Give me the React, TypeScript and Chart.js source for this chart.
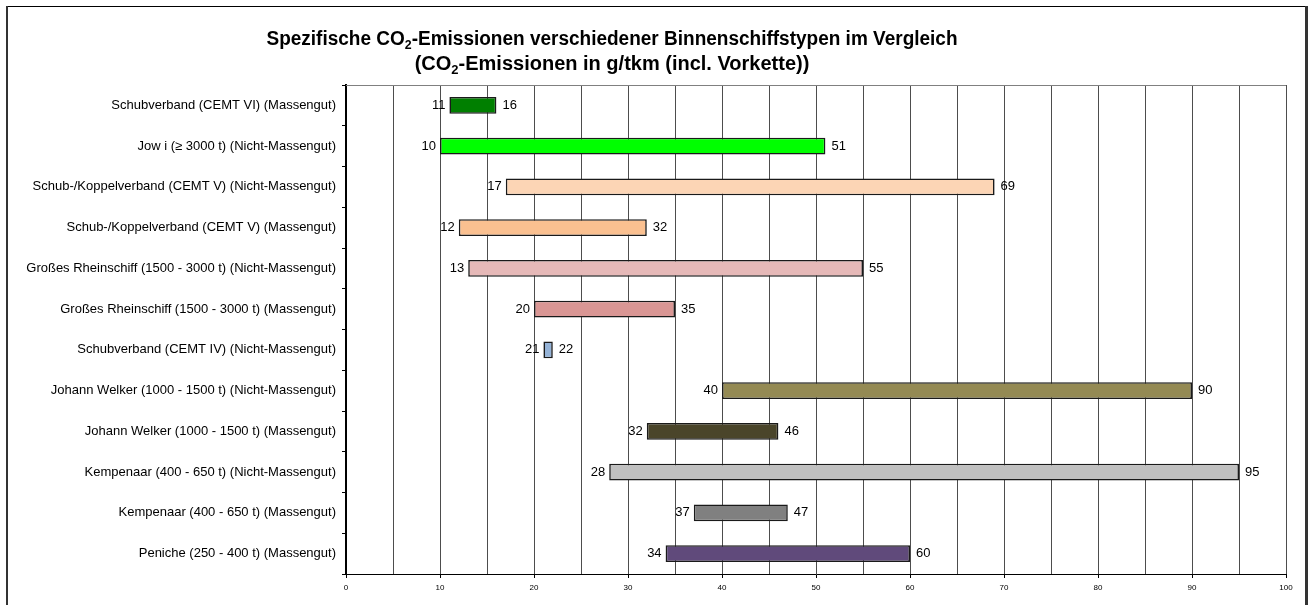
import { useEffect, useRef } from "react";
import { Chart, registerables } from "chart.js";

Chart.register(...registerables);

const categories = [
  "Schubverband (CEMT VI) (Massengut)",
  "Jow i (≥ 3000 t) (Nicht-Massengut)",
  "Schub-/Koppelverband (CEMT V) (Nicht-Massengut)",
  "Schub-/Koppelverband (CEMT V) (Massengut)",
  "Großes Rheinschiff (1500 - 3000 t) (Nicht-Massengut)",
  "Großes Rheinschiff (1500 - 3000 t) (Massengut)",
  "Schubverband (CEMT IV) (Nicht-Massengut)",
  "Johann Welker (1000 - 1500 t) (Nicht-Massengut)",
  "Johann Welker (1000 - 1500 t) (Massengut)",
  "Kempenaar (400 - 650 t) (Nicht-Massengut)",
  "Kempenaar (400 - 650 t) (Massengut)",
  "Peniche (250 - 400 t) (Massengut)",
];

const startValues = [11, 10, 17, 12, 13, 20, 21, 40, 32, 28, 37, 34];
const endValues = [16, 51, 69, 32, 55, 35, 22, 90, 46, 95, 47, 60];

const barColors = [
  "#007F00",
  "#00FF00",
  "#FCD5B5",
  "#FAC090",
  "#E6B9B8",
  "#D99694",
  "#95B3D7",
  "#948A54",
  "#4A452A",
  "#C0C0C0",
  "#808080",
  "#604A7B",
];

const xTickLabels = [0, 10, 20, 30, 40, 50, 60, 70, 80, 90, 100];

const titleLine1 = ["Spezifische CO", "2", "-Emissionen verschiedener Binnenschiffstypen im Vergleich"];
const titleLine2 = ["(CO", "2", "-Emissionen in g/tkm (incl. Vorkette))"];

const BASE_FONT = "'Liberation Sans', Arial, sans-serif";

function drawSubTitle(
  ctx: CanvasRenderingContext2D,
  parts: string[],
  cx: number,
  baseline: number,
  size: number,
  xScale: number
) {
  const mainFont = `bold ${size}px ${BASE_FONT}`;
  const subFont = `bold ${Math.round(size * 0.65)}px ${BASE_FONT}`;
  ctx.save();
  ctx.font = mainFont;
  const w0 = ctx.measureText(parts[0]).width;
  const w2 = ctx.measureText(parts[2]).width;
  ctx.font = subFont;
  const w1 = ctx.measureText(parts[1]).width;
  const total = w0 + w1 + w2;
  ctx.translate(cx, 0);
  ctx.scale(xScale, 1);
  let x = -total / 2;
  ctx.fillStyle = "#000";
  ctx.textAlign = "left";
  ctx.textBaseline = "alphabetic";
  ctx.font = mainFont;
  ctx.fillText(parts[0], x, baseline);
  x += w0;
  ctx.font = subFont;
  ctx.fillText(parts[1], x, baseline + size * 0.22);
  x += w1;
  ctx.font = mainFont;
  ctx.fillText(parts[2], x, baseline);
  ctx.restore();
}

const decorPlugin = {
  id: "decor",
  beforeDraw(chart: any) {
    const ctx = chart.ctx as CanvasRenderingContext2D;
    ctx.save();
    ctx.fillStyle = "#fff";
    ctx.fillRect(0, 0, chart.width, chart.height);
    ctx.restore();
  },
  afterDraw(chart: any) {
    const ctx = chart.ctx as CanvasRenderingContext2D;
    const area = chart.chartArea;
    ctx.save();
    ctx.strokeStyle = "#808080";
    ctx.lineWidth = 1;
    ctx.beginPath();
    ctx.moveTo(area.left, area.top + 0.5);
    ctx.lineTo(area.right, area.top + 0.5);
    ctx.stroke();
    ctx.fillStyle = "#000";
    ctx.fillRect(7, 6, 1299, 1);
    ctx.fillStyle = "#333";
    ctx.fillRect(6, 6, 2, chart.height - 6);
    ctx.fillRect(1305, 6, 3, chart.height - 6);
    drawSubTitle(ctx, titleLine1, 612, 45, 20, 0.95);
    drawSubTitle(ctx, titleLine2, 612, 70, 20, 1.0);
    ctx.restore();
  },
};

const valueLabelPlugin = {
  id: "valueLabels",
  afterDatasetsDraw(chart: any) {
    const ctx = chart.ctx as CanvasRenderingContext2D;
    const meta = chart.getDatasetMeta(0);
    ctx.save();
    ctx.font = `13px ${BASE_FONT}`;
    ctx.fillStyle = "#000";
    ctx.textBaseline = "middle";
    meta.data.forEach((el: any, i: number) => {
      const left = Math.min(el.x, el.base);
      const right = Math.max(el.x, el.base);
      ctx.textAlign = "right";
      ctx.fillText(String(startValues[i]), left - 4, el.y);
      ctx.textAlign = "left";
      ctx.fillText(String(endValues[i]), right + 6, el.y);
    });
    ctx.restore();
  },
};

export default function App() {
  const canvasRef = useRef<HTMLCanvasElement | null>(null);

  useEffect(() => {
    if (!canvasRef.current) return;
    const chart = new Chart(canvasRef.current, {
      type: "bar",
      data: {
        labels: categories,
        datasets: [
          {
            data: startValues.map((s, i) => [s, endValues[i]]) as any,
            backgroundColor: barColors,
            borderColor: "#1a1a1a",
            borderWidth: 1.6,
            borderSkipped: false,
            barPercentage: 0.41,
            categoryPercentage: 1,
          },
        ],
      },
      options: {
        indexAxis: "y",
        animation: false,
        responsive: false,
        devicePixelRatio: 1,
        layout: { padding: { left: 8, top: 85, right: 22, bottom: 0 } },
        plugins: {
          legend: { display: false },
          tooltip: { enabled: false },
          title: { display: false },
        },
        scales: {
          x: {
            type: "linear",
            min: 0,
            max: 100,
            afterFit: (scale: any) => {
              scale.height = 31;
            },
            ticks: {
              stepSize: 5,
              autoSkip: false,
              maxRotation: 0,
              padding: 5,
              color: "#000",
              font: { size: 8, family: BASE_FONT },
              callback: (v: any) => (xTickLabels.includes(Number(v)) ? String(v) : ""),
            },
            grid: {
              color: "#4d4d4d",
              lineWidth: 1,
              drawTicks: true,
              tickLength: 4,
              tickColor: (c: any) =>
                c.tick && xTickLabels.includes(c.tick.value) ? "#000" : "rgba(0,0,0,0)",
            },
            border: { color: "#000", width: 1 },
          },
          y: {
            type: "category",
            afterFit: (scale: any) => {
              scale.width = 338;
            },
            ticks: {
              autoSkip: false,
              padding: 6,
              color: "#000",
              font: { size: 13, family: BASE_FONT },
            },
            grid: {
              offset: true,
              drawOnChartArea: false,
              drawTicks: true,
              tickLength: 4,
              tickColor: "#000",
              color: "#000",
            },
            border: { color: "#000", width: 2 },
          },
        },
      },
      plugins: [decorPlugin, valueLabelPlugin],
    });
    return () => chart.destroy();
  }, []);

  return (
    <div style={{ position: "fixed", left: 0, top: 0, width: 1308, height: 605 }}>
      <canvas ref={canvasRef} width={1308} height={605} style={{ display: "block" }} />
    </div>
  );
}
